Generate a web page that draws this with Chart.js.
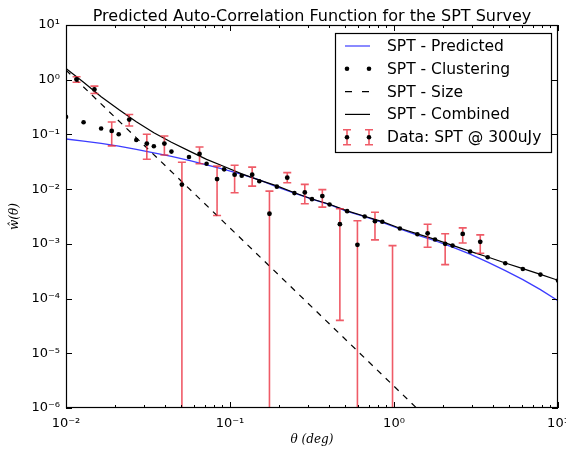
<!DOCTYPE html>
<html><head><meta charset="utf-8">
<script src="https://cdn.jsdelivr.net/npm/chart.js@4"></script>
<style>html,body{margin:0;padding:0;background:#fff}canvas{display:block}</style>
</head><body>
<canvas id="c" width="566" height="453"></canvas>
<script>
const titleText = 'Predicted Auto-Correlation Function for the SPT Survey';
const xTitle = 'θ (deg)';
const yTitle = 'ŵ(θ)';
const seriesNames = ['SPT - Predicted', 'SPT - Clustering', 'SPT - Size', 'SPT - Combined', 'Data: SPT @ 300uJy'];

const xTicks = [0.01, 0.1, 1, 10];
const xTickLabels = ['10⁻²', '10⁻¹', '10⁰', '10¹'];
const xMinorSubs = [2, 3, 4, 5, 6, 7, 8, 9];
const yTicks = [1e-6, 1e-5, 1e-4, 1e-3, 1e-2, 1e-1, 1, 10];
const yTickLabels = ['10⁻⁶', '10⁻⁵', '10⁻⁴', '10⁻³', '10⁻²', '10⁻¹', '10⁰', '10¹'];

// model grid (deg)
const thetaModel = [0.01, 0.0128, 0.01638, 0.02096, 0.02683, 0.03433, 0.04394, 0.05623, 0.07197, 0.0921,
  0.1179, 0.1509, 0.1931, 0.2471, 0.3162, 0.4047, 0.5179, 0.6629, 0.8483, 1.086,
  1.389, 1.778, 2.276, 2.913, 3.728, 4.771, 6.105, 7.814, 10];
const predicted = [0.0826, 0.0756, 0.0684, 0.0612, 0.0535, 0.0461, 0.0398, 0.0336, 0.0278, 0.0230,
  0.0186, 0.01476, 0.0110, 0.00843, 0.00654, 0.00519, 0.00394, 0.00313, 0.00248, 0.00187,
  0.00145, 0.00114, 0.000875, 0.000651, 0.000464, 0.000324, 0.000222, 0.000146, 0.0000914];
const clustering = [0.209, 0.167, 0.128, 0.101, 0.079, 0.0607, 0.0485, 0.0386, 0.0292, 0.023,
  0.0176, 0.0139, 0.0111, 0.00846, 0.00656, 0.00525, 0.00396, 0.00316, 0.00253, 0.00191,
  0.0015, 0.0012, 0.00093, 0.000723, 0.000569, 0.000442, 0.000348, 0.000274, 0.000213];
const combined = [1.6, 0.90, 0.49, 0.285, 0.17, 0.107, 0.072, 0.050, 0.035, 0.026,
  0.019, 0.0146, 0.0115, 0.0086, 0.0066, 0.0053, 0.0040, 0.0032, 0.00255, 0.00193,
  0.00152, 0.00121, 0.00094, 0.00073, 0.000575, 0.000447, 0.000352, 0.000277, 0.000216];
const thetaSize = [0.01, 0.1, 1, 10];
const sizeVals = [1.5, 0.00195, 0.0000025, 0.0000000032];

// measured data with error bars
const thetaData = [0.0116, 0.0149, 0.0190, 0.0243, 0.0311, 0.0398, 0.0509, 0.0652, 0.0834, 0.1067,
  0.1365, 0.174, 0.2234, 0.2858, 0.3656, 0.4677, 0.5984, 0.7656, 0.9795, 1.603, 2.051, 2.624, 3.357];
const dataVals = [1.01, 0.664, 0.116, 0.187, 0.068, 0.068, 0.0121, 0.0439, 0.0153, 0.0184,
  0.0184, 0.00355, 0.0162, 0.0087, 0.00746, 0.00229, 0.00096, 0.0026, null, 0.00156, 0.001, 0.00152, 0.00109];
const dataHi = [1.13, 0.763, 0.169, 0.231, 0.101, 0.0938, 0.031, 0.0589, 0.0264, 0.0273,
  0.0253, 0.0092, 0.020, 0.0122, 0.0098, 0.00438, 0.00264, 0.00379, 0.00093, 0.00228, 0.00153, 0.00196, 0.00146];
const dataLo = [0.90, 0.561, 0.0618, 0.143, 0.0351, 0.042, 1e-9, 0.0292, 0.0033, 0.00861,
  0.01137, 1e-9, 0.0131, 0.0054, 0.00469, 0.00004, 1e-9, 0.00118, 1e-9, 0.000867, 0.000418, 0.00104, 0.000673];

const BLUE = '#3c3cff';
const RED = 'rgba(235,45,60,0.78)';
const pts = (xs, ys) => xs.map((x, i) => ({x: x, y: ys[i]}));

Chart.defaults.color = '#000';
Chart.defaults.font.family = 'DejaVu Sans';

const titlePlugin = {
  id: 'axesTitle',
  afterDraw(chart) {
    const {ctx, chartArea: a} = chart;
    ctx.save();
    ctx.font = '16px "DejaVu Sans"';
    ctx.fillStyle = '#000'; ctx.textAlign = 'center'; ctx.textBaseline = 'alphabetic';
    ctx.fillText(titleText, (a.left + a.right) / 2, a.top - 4);
    ctx.restore();
  }
};

const errorBars = {
  id: 'errorBars',
  beforeDatasetDraw(chart, args) {
    if (args.index !== 4) return;
    const {ctx, chartArea: a, scales: {x, y}} = chart;
    ctx.save();
    ctx.beginPath(); ctx.rect(a.left, a.top, a.width, a.height); ctx.clip();
    ctx.strokeStyle = RED; ctx.lineWidth = 1.6;
    ctx.beginPath();
    thetaData.forEach((t, i) => {
      const px = x.getPixelForValue(t);
      const yh = y.getPixelForValue(dataHi[i]);
      const yl = y.getPixelForValue(dataLo[i]);
      ctx.moveTo(px, yh); ctx.lineTo(px, yl);
      ctx.moveTo(px - 4, yh); ctx.lineTo(px + 4, yh);
      ctx.moveTo(px - 4, yl); ctx.lineTo(px + 4, yl);
    });
    ctx.stroke();
    ctx.restore();
  }
};

const frameTicks = {
  id: 'frameTicks',
  afterDatasetsDraw(chart) {
    const {ctx, chartArea: a, scales: {x, y}} = chart;
    ctx.save();
    ctx.strokeStyle = '#000'; ctx.lineWidth = 1;
    ctx.beginPath();
    xTicks.forEach((v, k) => {
      const px = Math.round(x.getPixelForValue(v)) + 0.5;
      ctx.moveTo(px, a.bottom); ctx.lineTo(px, a.bottom - 6);
      ctx.moveTo(px, a.top); ctx.lineTo(px, a.top + 6);
      if (k < xTicks.length - 1) xMinorSubs.forEach(m => {
        const qx = Math.round(x.getPixelForValue(v * m)) + 0.5;
        ctx.moveTo(qx, a.bottom); ctx.lineTo(qx, a.bottom - 3);
        ctx.moveTo(qx, a.top); ctx.lineTo(qx, a.top + 3);
      });
    });
    yTicks.forEach(v => {
      const py = Math.round(y.getPixelForValue(v)) + 0.5;
      ctx.moveTo(a.left, py); ctx.lineTo(a.left + 6, py);
      ctx.moveTo(a.right, py); ctx.lineTo(a.right - 6, py);
    });
    ctx.stroke();
    ctx.lineWidth = 1.2;
    ctx.strokeRect(a.left + 0.5, a.top + 0.5, a.width - 1, a.height - 1);
    ctx.restore();
  }
};

const legendBox = {
  id: 'legendBox',
  afterDraw(chart) {
    const {ctx, chartArea: a} = chart;
    const bx = a.right - 223, by = a.top + 8, bw = 216, bh = 119;
    ctx.save();
    ctx.fillStyle = '#fff'; ctx.fillRect(bx, by, bw, bh);
    ctx.strokeStyle = '#000'; ctx.lineWidth = 1.2;
    ctx.strokeRect(bx + 0.5, by + 0.5, bw, bh);
    const x0 = bx + 10, x1 = bx + 35, tx = bx + 52;
    ctx.font = '15.5px "DejaVu Sans"';
    ctx.textBaseline = 'middle'; ctx.fillStyle = '#000';
    seriesNames.forEach((name, i) => {
      const yy = by + 13 + i * 22.8;
      ctx.setLineDash([]);
      if (i === 0 || i === 3) {
        ctx.strokeStyle = i === 0 ? BLUE : '#000'; ctx.lineWidth = 1.2;
        ctx.beginPath(); ctx.moveTo(x0, yy); ctx.lineTo(x1, yy); ctx.stroke();
      } else if (i === 2) {
        ctx.strokeStyle = '#000'; ctx.lineWidth = 1.2; ctx.setLineDash([7, 10]);
        ctx.beginPath(); ctx.moveTo(x0, yy); ctx.lineTo(x1, yy); ctx.stroke();
        ctx.setLineDash([]);
      } else {
        [x0 + 2, x1 - 1].forEach(cx => {
          if (i === 4) {
            ctx.strokeStyle = RED; ctx.lineWidth = 1.6;
            ctx.beginPath();
            ctx.moveTo(cx, yy - 7.5); ctx.lineTo(cx, yy + 7.5);
            ctx.moveTo(cx - 4, yy - 7.5); ctx.lineTo(cx + 4, yy - 7.5);
            ctx.moveTo(cx - 4, yy + 7.5); ctx.lineTo(cx + 4, yy + 7.5);
            ctx.stroke();
          }
          ctx.fillStyle = '#000';
          ctx.beginPath(); ctx.arc(cx, yy, 2.3, 0, Math.PI * 2); ctx.fill();
        });
      }
      ctx.fillStyle = '#000';
      ctx.fillText(name, tx, yy + 1);
    });
    ctx.restore();
  }
};

new Chart(document.getElementById('c'), {
  type: 'line',
  data: {
    datasets: [
      {label: seriesNames[0], data: pts(thetaModel, predicted), borderColor: BLUE, borderWidth: 1.3, pointRadius: 0, order: 5, clip: 0},
      {label: seriesNames[1], data: pts(thetaModel, clustering), showLine: false, pointRadius: 2.3, pointBackgroundColor: '#000', pointBorderWidth: 0, order: 4, clip: 0},
      {label: seriesNames[2], data: pts(thetaSize, sizeVals), borderColor: '#000', borderWidth: 1.2, borderDash: [6, 6], pointRadius: 0, order: 3, clip: 0},
      {label: seriesNames[3], data: pts(thetaModel, combined), borderColor: '#000', borderWidth: 1.2, pointRadius: 0, order: 2, clip: 0},
      {label: seriesNames[4], data: pts(thetaData, dataVals), showLine: false, pointRadius: 2.4, pointBackgroundColor: '#000', pointBorderWidth: 0, order: 1, clip: 0}
    ]
  },
  options: {
    responsive: false, animation: false, devicePixelRatio: 1,
    layout: {padding: {left: 0, right: 8, top: 25, bottom: 0}},
    plugins: {
      legend: {display: false}, tooltip: {enabled: false}, title: {display: false}
    },
    scales: {
      x: {
        type: 'logarithmic', min: 0.01, max: 10,
        grid: {display: false, drawTicks: false}, border: {display: false},
        afterBuildTicks: s => { s.ticks = xTicks.map(v => ({value: v})); },
        ticks: {autoSkip: false, maxRotation: 0, padding: 8, font: {size: 13}, callback: (v, i) => xTickLabels[i]},
        title: {display: true, text: xTitle, font: {family: 'DejaVu Serif', style: 'italic', size: 12}, padding: {top: 0, bottom: 6}},
        afterFit: s => { s.height = 45; s.paddingLeft = 0; s.paddingRight = 0; }
      },
      y: {
        type: 'logarithmic', min: 1e-6, max: 10,
        grid: {display: false, drawTicks: false}, border: {display: false},
        afterBuildTicks: s => { s.ticks = yTicks.map(v => ({value: v})); },
        ticks: {autoSkip: false, padding: 6, font: {size: 13}, callback: (v, i) => yTickLabels[i]},
        title: {display: true, text: yTitle, font: {family: 'DejaVu Serif', style: 'italic', size: 12}, padding: {top: 8, bottom: 0}},
        afterFit: s => { s.width = 66; s.paddingTop = 0; s.paddingBottom = 0; }
      }
    }
  },
  plugins: [errorBars, frameTicks, legendBox, titlePlugin]
});
</script>
</body></html>
